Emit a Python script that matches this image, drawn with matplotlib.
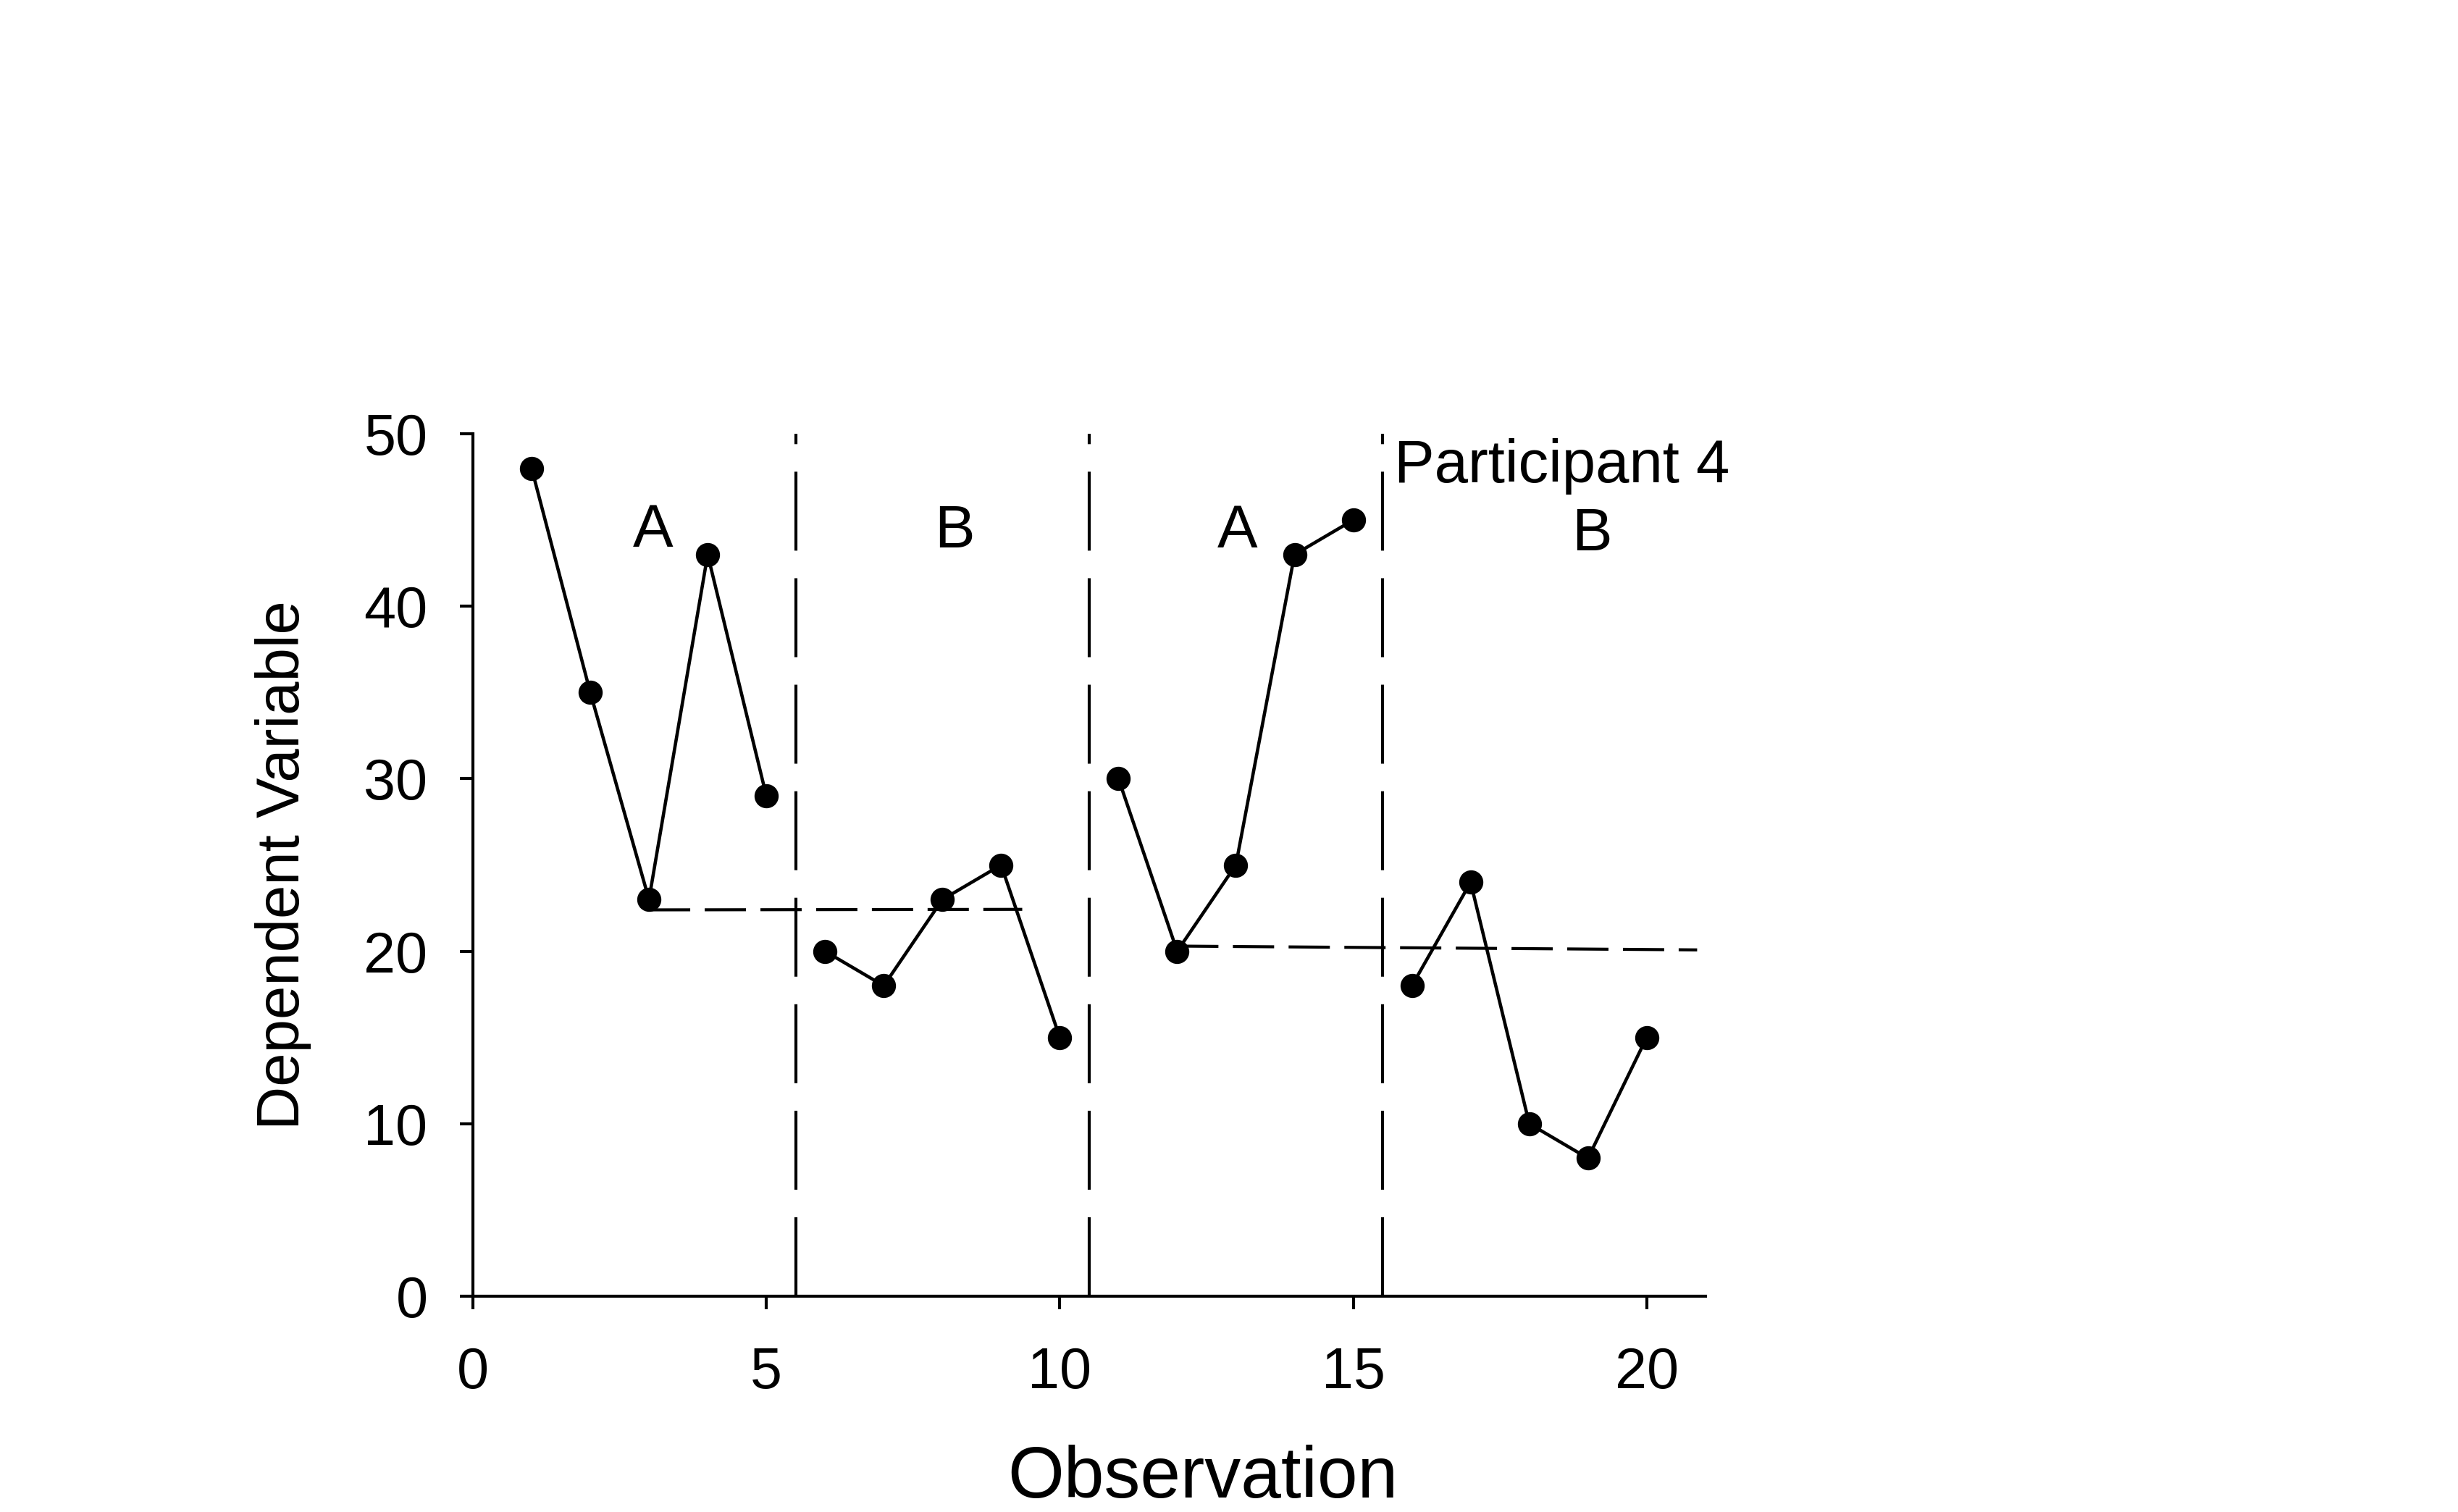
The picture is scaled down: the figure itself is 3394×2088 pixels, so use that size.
import matplotlib
matplotlib.use("Agg")
import matplotlib.pyplot as plt

plt.rcParams['font.family'] = ['Liberation Sans', 'DejaVu Sans']
plt.rcParams['lines.scale_dashes'] = False

# Data
obs_A1 = [1, 2, 3, 4, 5]
val_A1 = [48, 35, 23, 43, 29]
obs_B1 = [6, 7, 8, 9, 10]
val_B1 = [20, 18, 23, 25, 15]
obs_A2 = [11, 12, 13, 14, 15]
val_A2 = [30, 20, 25, 43, 45]
obs_B2 = [16, 17, 18, 19, 20]
val_B2 = [18, 24, 10, 8, 15]

phase_changes = [5.5, 10.5, 15.5]
trend1_x = [3, 9.36]
trend1_y = [22.4, 22.43]
trend2_x = [12, 20.86]
trend2_y = [20.3, 20.08]

phase_labels = ["A", "B", "A", "B"]
phase_label_x = [3.07, 8.2, 13.03, 19.07]
phase_label_y = [43.45, 43.4, 43.4, 43.25]
title_text = "Participant 4"
title_pos = (18.56, 47.17)

xticks = [0, 5, 10, 15, 20]
yticks = [0, 10, 20, 30, 40, 50]

fig = plt.figure(figsize=(33.94, 20.88), dpi=100)
ax = fig.add_axes([0.1924, 0.1427, 0.5014, 0.5704])

lw = 3.0
dlw = 3.3
for xs, ys in [(obs_A1, val_A1), (obs_B1, val_B1), (obs_A2, val_A2), (obs_B2, val_B2)]:
    ax.plot(xs, ys, color='black', lw=dlw, marker='o', markersize=23,
            markerfacecolor='black', markeredgecolor='black', zorder=3)

for xc in phase_changes:
    ax.plot([xc, xc], [0, 50], color='black', lw=lw,
            linestyle=(0, (78.5, 27.4)), zorder=2)

for tx, ty in [(trend1_x, trend1_y), (trend2_x, trend2_y)]:
    ax.plot(tx, ty, color='black', lw=lw, linestyle=(0, (41, 14.4)), zorder=2)

for lab, lx, ly in zip(phase_labels, phase_label_x, phase_label_y):
    ax.text(lx, ly, lab, ha='center', va='baseline', fontsize=60, color='black')

ax.text(title_pos[0], title_pos[1], title_text, ha='center', va='baseline',
        fontsize=60, color='black')

ax.set_xlim(0, 21)
ax.set_ylim(0, 50)
ax.set_xticks(xticks)
ax.set_yticks(yticks)
ax.spines['top'].set_visible(False)
ax.spines['right'].set_visible(False)
for s in ['left', 'bottom']:
    ax.spines[s].set_linewidth(lw)
ax.tick_params(axis='both', direction='out', length=13, width=lw, labelsize=57)
ax.tick_params(axis='x', pad=37)
ax.tick_params(axis='y', pad=32)

ax.set_xlabel("Observation", fontsize=72)
ax.set_ylabel("Dependent Variable", fontsize=60)
ax.xaxis.set_label_coords(0.592, -0.172)
ax.yaxis.set_label_coords(-0.131, 0.50)

fig.savefig("out.png", dpi=100)
